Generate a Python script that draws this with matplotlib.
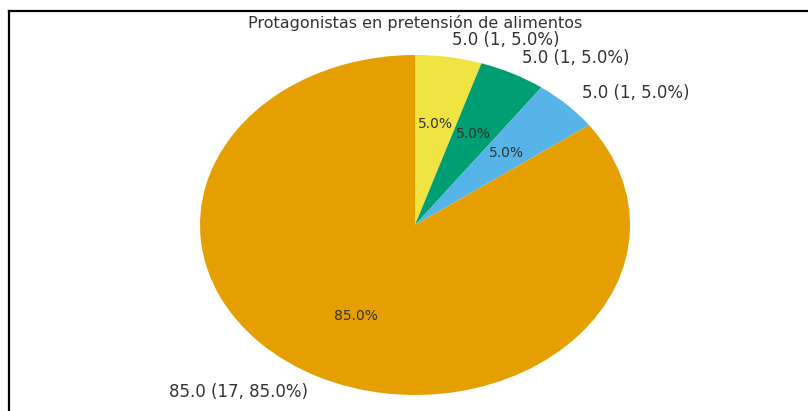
import matplotlib
matplotlib.use("Agg")
import matplotlib.pyplot as plt
from matplotlib.lines import Line2D

title = "Protagonistas en pretensión de alimentos"
counts = [1, 1, 1, 17]
colors = ["#F0E442", "#009E73", "#56B4E9", "#E69F00"]

total = sum(counts)
labels = [f"{100*c/total:.1f} ({c}, {100*c/total:.1f}%)" for c in counts]

W, H = 808, 411
fig = plt.figure(figsize=(W/100, H/100), dpi=100)
fig.patch.set_facecolor("white")

# pie axes spanning the elliptical pie extent
cx, cy, rx, ry = 415, 225, 215, 170
ax = fig.add_axes([(cx - rx)/W, 1 - (cy + ry)/H, 2*rx/W, 2*ry/H])
wedges, texts, autotexts = ax.pie(
    counts, colors=colors, labels=labels, autopct="%1.1f%%",
    startangle=90, counterclock=False, labeldistance=1.1, pctdistance=0.6,
    textprops=dict(color="#333333"),
)
for t in texts:
    t.set_fontsize(12)
for t in autotexts:
    t.set_fontsize(10)
ax.set_aspect("auto")
ax.set_xlim(-1, 1)
ax.set_ylim(-1, 1)
ax.axis("off")

fig.text(cx/W, 1 - 23/H, title, ha="center", va="center", fontsize=11.5, color="#333333")

# screenshot frame (left and top edges)
fig.add_artist(Line2D([8.5/W, 8.5/W], [0, 1 - 11.5/H], color="black", lw=1.6, transform=fig.transFigure))
fig.add_artist(Line2D([8.5/W, 1], [1 - 11.5/H, 1 - 11.5/H], color="black", lw=1.6, transform=fig.transFigure))

fig.savefig("out.png", dpi=100)
